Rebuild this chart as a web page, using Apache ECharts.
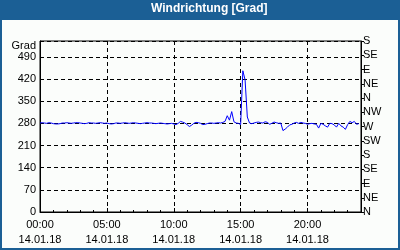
<!DOCTYPE html>
<html><head><meta charset="utf-8">
<script src="https://cdn.jsdelivr.net/npm/echarts@6/dist/echarts.min.js"></script>
<style>html,body{margin:0;padding:0;background:#1b5f95}#c{width:400px;height:250px}</style>
</head><body><div id="c"></div>
<script>
const titleText = "Windrichtung [Grad]";
const dateLabel = "14.01.18";
const leftAxisName = "Grad";
const compassLabels = ["N","NE","E","SE","S","SW","W","NW","N","NE","E","SE","S"];
const stepMinutes = 10;
// wind direction in degrees, one value per 10 minutes, 00:00 .. 23:50
const direction = [
  281,282,281,280,282,281,
  279,278,278,279,281,281,
  282,281,280,281,282,282,
  281,280,279,280,282,281,
  281,280,281,282,281,280,
  281,279,278,279,281,281,
  280,281,282,281,280,281,
  282,281,280,279,280,281,
  282,281,281,280,279,280,
  281,280,279,278,279,280,
  278,276,280,286,284,281,
  276,270,274,280,283,282,
  280,276,277,279,281,281,
  280,281,282,281,283,286,
  304,290,317,285,281,280,
  276,446,417,300,281,279,
  281,283,284,282,281,285,
  283,277,280,284,282,280,
  281,257,262,268,275,277,
  281,283,280,283,281,280,
  277,279,280,278,277,265,
  280,277,272,268,280,279,
  275,268,280,272,268,261,
  276,286,282,286,277,279
];
const seriesData = direction.map((v, i) => [i * stepMinutes / 60, v]);

const chart = echarts.init(document.getElementById('c'), null, {renderer: 'canvas'});
const font = '"Liberation Sans", Arial, sans-serif';
chart.setOption({
  backgroundColor: '#1b5f95',
  animation: false,
  graphic: [
    {type: 'rect', shape: {x: 2, y: 20, width: 396, height: 228}, style: {fill: '#fbfdfb'}, z: -10},
    {type: 'text', left: 209 - 58, top: 3, style: {text: titleText, fill: '#ffffff', font: 'bold 12px ' + font}, z: 10}
  ],
  grid: {left: 40, right: 39, top: 41, bottom: 38, show: true, borderColor: '#000', borderWidth: 1, backgroundColor: 'transparent'},
  xAxis: {
    type: 'value', min: 0, max: 24, interval: 5,
    axisLine: {lineStyle: {color: '#000', width: 1}},
    axisTick: {inside: true, length: 4, lineStyle: {color: '#000'}},
    minorTick: {show: true, splitNumber: 5, length: 2, lineStyle: {color: '#000'}},
    splitLine: {show: true, lineStyle: {color: '#000', type: [4, 3], width: 1}},
    axisLabel: {
      color: '#000', fontFamily: font, fontSize: 11, lineHeight: 15, margin: 5,
      showMaxLabel: false,
      formatter: v => String(v).padStart(2, '0') + ':00\n' + dateLabel
    }
  },
  yAxis: [
    {
      type: 'value', min: 0, max: 540, interval: 70,
      name: leftAxisName, nameLocation: 'end', nameGap: -5,
      nameTextStyle: {color: '#000', fontFamily: font, fontSize: 11, align: 'right', verticalAlign: 'middle', padding: [0, 4, 0, 0]},
      axisLine: {show: true, lineStyle: {color: '#000'}},
      axisTick: {show: false},
      splitLine: {show: true, lineStyle: {color: '#000', type: [4, 3], width: 1}},
      axisLabel: {color: '#000', fontFamily: font, fontSize: 11, margin: 4, showMaxLabel: false}
    },
    {
      type: 'value', min: 0, max: 540, interval: 45, position: 'right',
      axisLine: {show: true, lineStyle: {color: '#000'}},
      axisTick: {show: true, length: 3, lineStyle: {color: '#000'}},
      splitLine: {show: false},
      axisLabel: {color: '#000', fontFamily: font, fontSize: 11, margin: 2, formatter: v => compassLabels[Math.round(v / 45)]}
    }
  ],
  series: [{
    type: 'line', data: seriesData, yAxisIndex: 0, showSymbol: false,
    lineStyle: {color: '#0000ff', width: 1}, z: 5
  }]
});
</script></body></html>
